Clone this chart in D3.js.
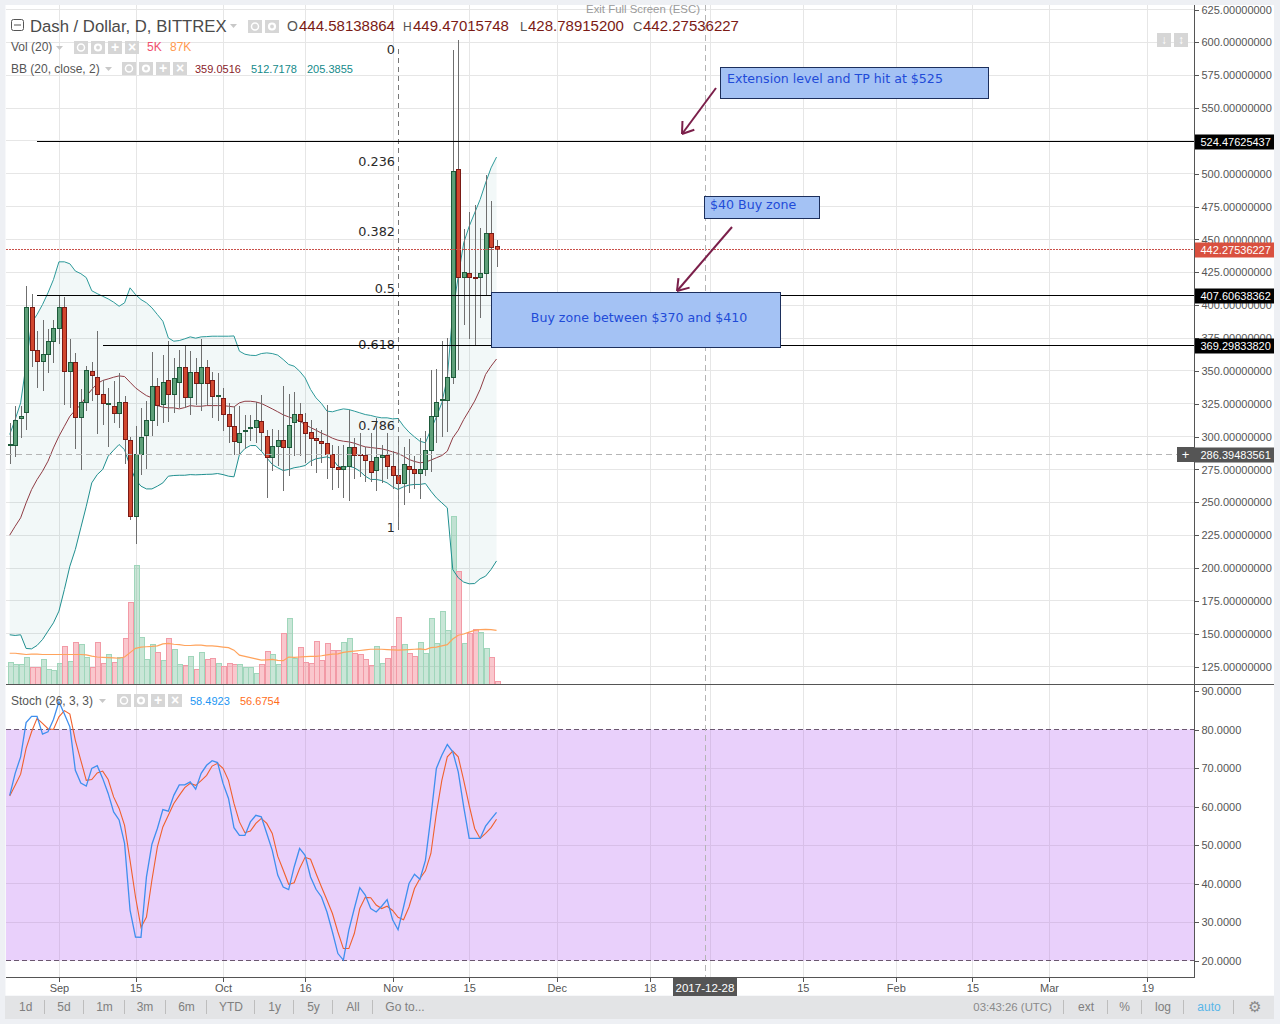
<!DOCTYPE html>
<html><head><meta charset="utf-8">
<script src="https://cdn.jsdelivr.net/npm/d3@7/dist/d3.min.js"></script>
<style>html,body{margin:0;padding:0;background:#eef0f4;overflow:hidden}svg{display:block}text{font-family:"Liberation Sans",Arial,sans-serif}</style>
</head><body><svg id="c" width="1280" height="1024"></svg>
<script>
const opens=[293,293,313.5,318.1,397.9,365.2,356.9,362.2,372.1,382,397.9,349.3,356.1,314.3,325.7,349.3,344.7,331.8,324.6,322.6,317.3,325.7,296.8,238.9,286.1,300.6,312,337.8,324.7,342.4,331.8,340.9,352.3,329.5,348.5,340.1,352.3,342.4,330.5,328.7,316.5,307.4,295.2,303.9,305.9,306.6,311.8,300.3,283.9,292.2,297.3,291.5,310.5,317.1,310.5,303.4,298.3,296.5,294.5,286.1,276.3,274.7,277,291.5,286.1,285.4,280.8,274,283.9,285.4,277,270.2,264.1,277,274.7,271.7,274.7,289.2,315,327.2,327.2,344.7,502.9,421.3,423.8,421.3,420.8,423.8,454.2,444.58];
const closes=[294,312,315,397.9,365.2,356.9,362.2,372.1,382,397.9,349.3,356.1,314.3,325.7,350,346.7,331.8,324.9,325.2,317.3,325.7,297.5,238.9,286.1,299,312,337.8,323.4,340.9,331.8,343.9,352.3,329.5,348.5,340.1,352.3,340.1,330.2,331,316.5,307.4,296,302.1,304.4,306.6,312,303.4,283.9,292.2,297.3,291.5,308.2,317.1,311.3,302.1,298.3,296.8,294.5,286.1,276.3,274.7,277,291.5,285.4,285.4,281.6,272.5,283.9,285.4,277,270.2,264.1,278.5,274.7,271.7,274.7,289.2,315,325.7,328.2,344.7,501.4,421.3,424.6,420.8,420.6,423.8,454.2,444,442.28];
const highs=[310.5,323.6,323.6,414.9,408.8,380.7,389.1,382.2,388.6,408.1,406.3,374.6,363.7,336.3,354.1,356.9,380.7,343.4,337.1,342.2,348.5,331.2,300,308.4,321.9,326.9,364.7,344.7,362.4,373.1,359.9,366.2,369.5,365.5,359.9,373.9,358.6,349,348.5,337.1,325.7,323.1,323.6,316.8,316.8,326.2,332,305.4,305.9,304.9,338.4,332.8,333.8,325.2,318.1,313,306.7,305.4,324.4,294,292.7,294,320.6,299.1,302.9,292.2,302.9,314.3,294,302.9,288.9,297.8,292.2,298.3,285.6,299.1,304.2,350.6,351.1,372.8,375,594.5,602,458.3,471.2,476.6,459,499.4,479.6,449.47];
const lows=[278.8,284.3,298.8,305.4,352.8,336.8,334.5,348.2,356.1,370.6,324.4,321.9,290.2,274.4,319.3,326.9,302.3,308.7,291.9,310,306.6,278.8,236.4,218.6,270.6,275,300.3,307.9,310,311,317.6,321.9,321.4,316.8,324.4,319.3,324.4,314,311.7,304.1,295.2,285.9,286.4,290.2,297,295.2,288.9,253.4,273.7,277.5,258.5,269.9,285.6,285.6,280.1,277.5,272.5,279.6,267.9,259.3,261,253.4,250.9,267.9,269.4,265.4,265.4,258.5,264.9,267.9,260.3,229.3,247.9,257.2,259.8,252.2,269.9,273,295.3,299.8,303.4,340,351,385.3,373.9,369.5,390.6,408,409,428.79];
const volumes=[35.4,32.2,32.2,43.5,26.3,27.4,40.3,24.2,22.6,33.8,61.2,37.1,67.7,64.4,43.5,27.4,67.7,33.8,48.3,35.4,43.5,74.1,132.1,191.7,75.7,40.3,64.4,51.6,38.7,74.1,56.4,32.2,30.6,45.1,24.2,51.6,40.3,41.9,33.8,29,33.8,32.2,32.2,27.4,27.4,17.7,32.2,53.2,48.3,32.2,82.2,106.3,41.9,59.6,35.4,33.8,69.3,38.7,66.1,54.8,54.8,67.7,74.1,49.9,48.3,40.3,30.6,61.2,33.8,41.9,61.2,107.9,64.4,49.9,45.1,67.7,49.9,106.3,66.1,117.6,87,271.2,182,66.1,82.2,88.6,83.8,58,43.5,5];
const volMA=[50,50,49,48,48.5,48.5,48,48,48,48,48,48,48,48,47.5,45.5,44,43.5,43,42.5,42,44,51,58,60,60.5,61,62,65,66,64.5,64,62.5,62.5,63,63,62,62,61,60,59,55,47,45,43,41,39,39.5,40,38.5,38,44,43.5,44,44.5,45,45,46,47.5,48.5,49,51.5,52.5,53.5,54.5,55.5,56.5,56.5,56.5,56,55.5,55,55.5,56,56.5,57,56,59,60,62,64,73,79,81,84,87,88,88.5,88,87];
const bbBasis=[225,231.8,238.2,249.6,259.7,267.3,273.7,281.3,291.4,300.3,307.9,315.5,320.1,324.4,330.7,335.8,340.4,342.7,343.9,345.2,346.2,345.7,341.4,337.1,334,331.2,329.5,323.6,322.4,321.9,321.9,321.1,322.1,323.6,323.1,323.1,323.6,323.6,323.6,323.6,323.1,322.6,325.7,326.9,326.9,326.4,325.2,323.2,321.1,318.9,316.6,315,313.5,311.8,309.2,306.9,304.9,302.6,300.9,298.8,297.3,296.5,296,295,293.5,292.2,291.7,291.2,290.7,289.7,288.4,287.2,285.1,282.6,281.1,280.1,280.6,282.1,283.9,285.6,288.9,299,304.9,313,319.9,327,335.9,347.3,353.6,359.05];
const bbUpper=[301.6,313,325.7,354.8,386.5,392.9,400.5,409.4,419.5,433,433,431.5,426,424,421,411,408.8,406.8,404.8,402.3,399.2,401.8,413.2,408.1,404.3,401.8,398,392.9,387.8,375.1,372.6,373.1,374.4,375.9,374.9,375.9,376.1,376.4,376.4,376.4,376.4,376.6,365,362.7,361.9,361.7,363.2,363.7,363.2,362,358.7,354.9,353.6,349.8,344.7,335.9,329.5,325.2,319.4,318.9,320.1,321.1,320.6,319.4,318.1,316.8,316.1,315,314.3,314.3,313.5,313.8,308,303.4,299.8,296.5,295.3,305.4,315,325.7,344.7,395,422,447.4,460,470.2,480.4,493,504.5,512.72];
const bbLower=[149.2,148.7,149.2,138.8,138.5,141.1,145.6,152,158.3,167.2,183.7,201.4,214.1,230.6,247,264.8,271.1,275,285.1,289.7,294,290,277.5,267.3,262.3,260.2,260.2,262.3,264.8,269.9,270.4,270.6,270.6,271.1,270.9,271.1,271.3,271.4,271.9,271.1,269.9,269.4,286.4,290.9,293.2,293.2,288.9,283.9,278.8,276.3,274.2,275,276.3,277,278,281.3,283.1,283.9,284.6,283.1,277.5,276.3,277.5,276.3,273.7,269.9,267.4,267.4,266.6,264.8,261.8,259.8,261.8,263.1,263.6,263.6,264.3,258.5,253.4,249.6,245.8,198.9,192.6,189.3,188,188.2,191.8,193.8,198.9,205.39];
const stochK=[62.9,68.6,72.9,81.8,83.4,83.4,78.8,79.4,82.6,87.2,84,80.7,69.4,66.1,65.3,69.9,70.6,67.3,63.4,58.6,56.5,50.4,33.1,26.1,26,41.7,50.2,54.3,59.2,58.8,62.9,65.6,65.6,66.4,64.5,68.6,70.7,71.9,71.4,66,62.1,54.5,52.5,52.5,56,57.7,57.3,53,48.6,42.2,39.1,38.4,44.3,49.1,47.3,41.7,38.5,36.5,32.6,27.4,21.8,20.1,27.9,33.5,38.9,37,33.5,32.6,34.1,35.8,30.6,28,33.9,40,42.4,41.1,46,57.3,69.9,73.3,76.1,74.2,69,59.9,51.7,51.7,51.7,54.9,56.7,58.49];
const stochD=[62.7,65.5,68.4,75.1,79.4,82.9,81.6,80.2,80,83.3,84.9,84,77.2,72,66.8,67,68.7,69.2,67,62.5,59.5,55.1,46,36.5,28.6,31.3,40.9,49.5,54.7,57.7,60.8,62.9,64.9,66,65.5,66.7,68.1,70.5,71.2,69.9,66.8,60.8,56,53.2,53.6,55.6,56.9,55.6,53,47.1,43.5,39.8,40.2,43.9,46.8,46.3,42.6,39.1,35.7,32.2,27.4,23.1,23.1,27,33.5,36.4,36.3,34.4,33.5,34.1,33,31.2,30.6,33.9,38.7,41.3,43.3,47.8,58.2,66.8,72.9,74.4,72.9,66.8,60.3,54.3,51.7,53,54.5,56.68];
const firstDay="2017-08-23";
const priceTicks=d3.range(125,626,25);
const stochTicks=d3.range(20,91,10);
const dateTicks=["2017-09-01","2017-09-15","2017-10-01","2017-10-16","2017-11-01","2017-11-15","2017-12-01","2017-12-18","2017-12-29","2018-01-15","2018-02-01","2018-02-15","2018-03-01","2018-03-19"];
const dateLabels=["Sep","15","Oct","16","Nov","15","Dec","18","2018","15","Feb","15","Mar","19"];
const hLevels=[524.47625437,407.60638362,369.29833820];
const hLevelStartDays=[5,5,17];
const fibLabels=["0","0.236","0.382","0.5","0.618","0.786","1"];
const fibPrices=[595.3,510,456.8,413.4,370.8,309.2,231.6];
const lastPrice=442.27536227, crossPrice=286.39483561, crossDay="2017-12-28";
const rangeBtns=["1d","5d","1m","3m","6m","YTD","1y","5y","All","Go to..."];
const rangeBtnX=[25.7,64,104.5,145,186.5,231,274.7,313.5,353,405];
const rangeSep=[44.5,83.7,124.5,165.7,206.5,254.7,293.5,332.6,372];

const svg=d3.select("#c");
const L=6,R=1194.5,TOP=5,MAIN=684.5,SB=977.5,RE=1274;
const parse=d3.utcParse("%Y-%m-%d");
const d0=parse(firstDay);
const days=opens.map((_,i)=>d3.utcDay.offset(d0,i));
const xT=d3.scaleUtc().domain([d0,d3.utcDay.offset(d0,208)]).range([9.7,9.7+5.47*208]);
const y=d3.scaleLinear().domain([125,625]).range([666.6,9.5]);
const yV=d3.scaleLinear().domain([0,271.2]).range([684.3,516]);
const yS=d3.scaleLinear().domain([20,80]).range([960.5,729.5]);
const cx=i=>Math.round(xT(days[i]))+.5;
const px=v=>Math.floor(v)+.5;

svg.append("rect").attr("x",L-.5).attr("y",TOP).attr("width",RE-L+.5).attr("height",SB+18-TOP).attr("fill","#fff");
// grid
const grid=svg.append("g").attr("stroke","#e6e6e6").attr("stroke-width",1).attr("shape-rendering","crispEdges");
priceTicks.forEach(p=>grid.append("line").attr("x1",L).attr("x2",R).attr("y1",px(y(p))).attr("y2",px(y(p))));
dateTicks.forEach(d=>{const x=Math.round(xT(parse(d)))+.5;grid.append("line").attr("x1",x).attr("x2",x).attr("y1",TOP).attr("y2",SB);});
// stoch
svg.append("rect").attr("x",L).attr("y",yS(80)).attr("width",R-L).attr("height",yS(20)-yS(80)).attr("fill","#e9d0fb");
const sg=svg.append("g").attr("stroke","#d8bfe8").attr("shape-rendering","crispEdges");
stochTicks.filter(v=>v>20&&v<80).forEach(v=>sg.append("line").attr("x1",L).attr("x2",R).attr("y1",px(yS(v))).attr("y2",px(yS(v))));
dateTicks.forEach(d=>{const x=Math.round(xT(parse(d)))+.5;sg.append("line").attr("x1",x).attr("x2",x).attr("y1",yS(80)).attr("y2",yS(20));});
[80,20].forEach(v=>svg.append("line").attr("x1",L).attr("x2",R).attr("y1",px(yS(v))).attr("y2",px(yS(v))).attr("stroke","#6b5770").attr("stroke-dasharray","5 3").attr("shape-rendering","crispEdges"));
// BB fill
svg.append("path").datum(opens.map((_,i)=>i)).attr("fill","rgba(20,120,120,0.055)")
 .attr("d",d3.area().x(i=>xT(days[i])).y0(i=>y(bbLower[i])).y1(i=>y(bbUpper[i])));
// volume
const isUp=i=>closes[i]>=opens[i];
svg.append("g").selectAll("rect").data(opens.map((_,i)=>i)).join("rect")
 .attr("x",i=>cx(i)-2.5).attr("width",5).attr("y",i=>px(yV(volumes[i]))).attr("height",i=>684-Math.floor(yV(volumes[i])))
 .attr("fill",i=>isUp(i)?"rgba(90,180,135,0.33)":"rgba(240,80,100,0.32)")
 .attr("stroke",i=>isUp(i)?"#a0d6bb":"#f29aa6").attr("stroke-width",1).attr("shape-rendering","crispEdges");
// lines below candles
const line=(arr,sc)=>d3.line().x(i=>xT(days[i])).y(i=>sc(arr[i]));
const idx=opens.map((_,i)=>i);
svg.append("path").datum(idx).attr("fill","none").attr("stroke","#ffa35c").attr("stroke-width",1.2).attr("d",line(volMA,yV));
svg.append("path").datum(idx).attr("fill","none").attr("stroke","#8f3c44").attr("stroke-width",1).attr("d",line(bbBasis,y));
svg.append("path").datum(idx).attr("fill","none").attr("stroke","#2d9a9a").attr("stroke-width",1).attr("d",line(bbUpper,y));
svg.append("path").datum(idx).attr("fill","none").attr("stroke","#1f8f8f").attr("stroke-width",1).attr("d",line(bbLower,y));
// candles
const cg=svg.append("g").attr("shape-rendering","crispEdges");
cg.selectAll("line").data(idx).join("line").attr("x1",cx).attr("x2",cx).attr("y1",i=>y(highs[i])).attr("y2",i=>y(lows[i])).attr("stroke","#6f6f6f");
cg.selectAll("rect").data(idx).join("rect").attr("x",i=>cx(i)-2).attr("width",4)
 .attr("y",i=>px(y(Math.max(opens[i],closes[i]))))
 .attr("height",i=>Math.max(1,Math.floor(y(Math.min(opens[i],closes[i])))-Math.floor(y(Math.max(opens[i],closes[i])))))
 .attr("fill",i=>isUp(i)?"#5d9f78":"#d1472f").attr("stroke",i=>isUp(i)?"#1d5a3a":"#7b1a15");
// stoch lines
svg.append("path").datum(idx).attr("fill","none").attr("stroke","#f0602d").attr("stroke-width",1.1).attr("d",line(stochD,yS));
svg.append("path").datum(idx).attr("fill","none").attr("stroke","#3f8fee").attr("stroke-width",1.3).attr("d",line(stochK,yS));
// price dotted & crosshair
svg.append("line").attr("x1",L).attr("x2",R).attr("y1",px(y(lastPrice))).attr("y2",px(y(lastPrice))).attr("stroke","#c9504a").attr("stroke-dasharray","1.5 1.5").attr("shape-rendering","crispEdges");
svg.append("line").attr("x1",L).attr("x2",R).attr("y1",px(y(crossPrice))).attr("y2",px(y(crossPrice))).attr("stroke","#b5b5b5").attr("stroke-dasharray","6 4").attr("shape-rendering","crispEdges");
const chx=Math.round(xT(parse(crossDay)))+1.5;
svg.append("line").attr("x1",chx).attr("x2",chx).attr("y1",TOP).attr("y2",SB).attr("stroke","#b5b5b5").attr("stroke-dasharray","6 4").attr("shape-rendering","crispEdges");
// fib trend line
svg.append("line").attr("x1",398.5).attr("x2",398.5).attr("y1",y(fibPrices[0])).attr("y2",y(fibPrices[6])).attr("stroke","#777").attr("stroke-dasharray","5 4").attr("shape-rendering","crispEdges");
fibLabels.forEach((t,i)=>svg.append("text").attr("x",395).attr("y",y(fibPrices[i])+5).attr("text-anchor","end").attr("font-size",12.8).attr("fill","#2a2a2a").style("font-family","'DejaVu Sans'").text(t));
// horizontal levels
hLevels.forEach((p,i)=>svg.append("line").attr("x1",Math.round(xT(d3.utcDay.offset(d0,hLevelStartDays[i])))).attr("x2",R).attr("y1",px(y(p))).attr("y2",px(y(p))).attr("stroke","#000").attr("shape-rendering","crispEdges"));
// boxes
function box(x,yy,w,h,t,tx,ta,base){
 svg.append("rect").attr("x",x+.5).attr("y",yy+.5).attr("width",w).attr("height",h).attr("fill","#a4c2f4").attr("stroke","#1c2f5c").attr("shape-rendering","crispEdges");
 svg.append("text").attr("x",tx).attr("y",base).attr("text-anchor",ta).attr("font-size",12.6).attr("fill","#1f4bd8").style("font-family","'DejaVu Sans'").text(t);
}
box(720,67,268,31,"Extension level and TP hit at $525",727,"start",83);
box(704,196,115,22,"$40 Buy zone",710,"start",209);
box(491,292,289,55,"Buy zone between $370 and $410",639,"middle",322);
function arrow(x1,y1,x2,y2){
 const c="#7b1f4a",a=Math.atan2(y2-y1,x2-x1),l=13;
 svg.append("line").attr("x1",x1).attr("y1",y1).attr("x2",x2).attr("y2",y2).attr("stroke",c).attr("stroke-width",2);
 [-.6,.6].forEach(d=>svg.append("line").attr("x1",x2).attr("y1",y2).attr("x2",x2-l*Math.cos(a+d)).attr("y2",y2-l*Math.sin(a+d)).attr("stroke",c).attr("stroke-width",2));
}
arrow(716,88,682,134);
arrow(732,227,677,291);
// frame
svg.append("g").attr("stroke","#555").attr("shape-rendering","crispEdges").call(g=>{
 g.append("line").attr("x1",L).attr("x2",R).attr("y1",MAIN).attr("y2",MAIN);
 g.append("line").attr("x1",R).attr("x2",RE).attr("y1",MAIN).attr("y2",MAIN);
 g.append("line").attr("x1",L).attr("x2",R).attr("y1",SB).attr("y2",SB);
 g.append("line").attr("x1",R).attr("x2",R).attr("y1",TOP).attr("y2",SB);
});
// axes
const axP=svg.append("g").attr("transform",`translate(${R},0)`).call(d3.axisRight(y).tickValues(priceTicks).tickSize(4).tickPadding(3).tickFormat(d3.format(".8f")));
const axS=svg.append("g").attr("transform",`translate(${R},0)`).call(d3.axisRight(yS).tickValues(stochTicks).tickSize(4).tickPadding(3).tickFormat(d3.format(".4f")));
[axP,axS].forEach(a=>{a.select(".domain").remove();a.selectAll("text").attr("font-size",11).attr("fill","#555").style("font-family",'"Liberation Sans",Arial,sans-serif');a.selectAll("line").attr("stroke","#555").attr("shape-rendering","crispEdges");});
const axT=svg.append("g").attr("transform",`translate(0,${SB})`).call(d3.axisBottom(xT).tickValues(dateTicks.map(parse)).tickSize(4).tickPadding(3).tickFormat((d,i)=>dateLabels[i]));
axT.select(".domain").remove();axT.selectAll("text").attr("font-size",11).attr("fill","#555").style("font-family",'"Liberation Sans",Arial,sans-serif');axT.selectAll("line").attr("stroke","#555").attr("shape-rendering","crispEdges");
// axis tags
function tag(p,t,bg){const yy=Math.floor(y(p))+1;
 svg.append("rect").attr("x",R+.5).attr("y",yy-7.5).attr("width",RE-R-.5).attr("height",15).attr("fill",bg);
 svg.append("text").attr("x",1200.5).attr("y",yy+4).attr("font-size",11).attr("fill","#fff").text(t);}
tag(hLevels[0],"524.47625437","#000");
tag(hLevels[1],"407.60638362","#000");
tag(hLevels[2],"369.29833820","#000");
tag(lastPrice,"442.27536227","#d9503f");
tag(crossPrice,"286.39483561","#555");
svg.append("rect").attr("x",1177).attr("y",y(crossPrice)-7.5).attr("width",17).attr("height",15).attr("fill","#555");
svg.append("text").attr("x",1185.5).attr("y",y(crossPrice)+4.5).attr("text-anchor","middle").attr("font-size",13).attr("fill","#fff").text("+");
// date tag
svg.append("rect").attr("x",673).attr("y",978).attr("width",64).attr("height",18).attr("fill","#555");
svg.append("text").attr("x",705).attr("y",992).attr("text-anchor","middle").attr("font-size",11.5).attr("fill","#fff").text(crossDay);
// toolbar
svg.append("rect").attr("x",5).attr("y",996).attr("width",RE-5).attr("height",23).attr("fill","#e3e4e6");
const tb=(x,t,c,a)=>svg.append("text").attr("x",x).attr("y",1011).attr("text-anchor",a||"middle").attr("font-size",12).attr("fill",c||"#7f7f7f").text(t);
rangeBtns.forEach((t,i)=>tb(rangeBtnX[i],t));
rangeSep.concat([1063.7,1107,1141.6,1183.7,1233.5]).forEach(x=>svg.append("line").attr("x1",x).attr("x2",x).attr("y1",1000).attr("y2",1014).attr("stroke","#bdbdbd").attr("shape-rendering","crispEdges"));
svg.append("text").attr("x",1012.6).attr("y",1011).attr("text-anchor","middle").attr("font-size",11.4).attr("fill","#8a8a8a").text("03:43:26 (UTC)");
tb(1086,"ext");tb(1124.5,"%");tb(1163,"log");tb(1209,"auto","#59b6e8");
svg.append("text").attr("x",1254).attr("y",1012).attr("text-anchor","middle").attr("font-size",15).attr("fill","#8a8a8a").text("⚙");
// top
svg.append("text").attr("x",643).attr("y",13).attr("text-anchor","middle").attr("font-size",11.4).attr("fill","#9a9a9a").text("Exit Full Screen (ESC)");
// legends
const lg=(x,yy,t,fs,c,w)=>svg.append("text").attr("x",x).attr("y",yy).attr("font-size",fs).attr("fill",c).attr("font-weight",w||400).text(t);
svg.append("rect").attr("x",11.5).attr("y",19.5).attr("width",12).attr("height",11).attr("rx",2).attr("fill","none").attr("stroke","#555");
svg.append("line").attr("x1",14).attr("x2",21).attr("y1",25).attr("y2",25).attr("stroke","#555");
lg(30,32,"Dash / Dollar, D, BITTREX",16.7,"#4a4a4a");
lg(287,31,"O",14,"#555");lg(299,31,"444.58138864",15,"#7b1a15");
lg(403,31,"H",12,"#555");lg(413,31,"449.47015748",15,"#7b1a15");
lg(520,31,"L",13,"#555");lg(528,31,"428.78915200",15,"#7b1a15");
lg(633,31,"C",13,"#555");lg(643,31,"442.27536227",15,"#7b1a15");
lg(11,51,"Vol (20)",12,"#555");lg(147,51,"5K",12,"#f0506e");lg(170,51,"87K",12,"#ff9a50");
lg(11,73,"BB (20, close, 2)",12,"#555");lg(195,73,"359.0516",11,"#8a1c2a");lg(251,73,"512.7178",11,"#148a8a");lg(307,73,"205.3855",11,"#148a8a");
lg(11,705,"Stoch (26, 3, 3)",12,"#555");lg(190,705,"58.4923",11,"#2196f3");lg(240,705,"56.6754",11,"#ff6d1a");
const caret=(x,yy)=>svg.append("path").attr("d",`M${x},${yy}l7,0l-3.5,4z`).attr("fill","#c8c8c8");
caret(230,24);caret(56,46);caret(105,67);caret(99,699);
const glyphs=["eye","gear","+","×"];
const ic=(x,yy,n)=>{for(let i=0;i<n;i++){const bx=x+i*17;
 svg.append("rect").attr("x",bx).attr("y",yy).attr("width",14).attr("height",13).attr("fill","#d6d6d6");
 const g=glyphs[i];
 if(g==="eye"||g==="gear"){svg.append("circle").attr("cx",bx+7).attr("cy",yy+6.5).attr("r",g==="eye"?3.5:3).attr("fill","none").attr("stroke","#fff").attr("stroke-width",g==="eye"?1.5:2.2);}
 else svg.append("text").attr("x",bx+7).attr("y",yy+11).attr("text-anchor","middle").attr("font-size",14).attr("font-weight",700).attr("fill","#fff").text(g);
}};
ic(248,20,2);ic(74,41,4);ic(122,62,4);ic(117,694,4);
[[1157,"↓"],[1174,"↕"]].forEach(([x,t])=>{svg.append("rect").attr("x",x).attr("y",33).attr("width",14).attr("height",14).attr("fill","#d6d6d6");
 svg.append("text").attr("x",x+7).attr("y",44).attr("text-anchor","middle").attr("font-size",12).attr("font-weight",700).attr("fill","#fff").text(t);});
</script></body></html>
